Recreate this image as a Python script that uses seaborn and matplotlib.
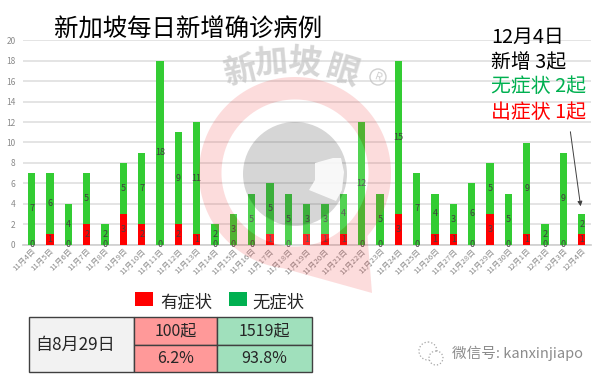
import matplotlib
matplotlib.use("Agg")
import matplotlib.pyplot as plt
import matplotlib.patches as mpatches
from matplotlib.path import Path
import numpy as np
import seaborn as sns

# 数据
days = ["11月4日", "11月5日", "11月6日", "11月7日", "11月8日", "11月9日", "11月10日", "11月11日",
        "11月12日", "11月13日", "11月14日", "11月15日", "11月16日", "11月17日", "11月18日", "11月19日",
        "11月20日", "11月21日", "11月22日", "11月23日", "11月24日", "11月25日", "11月26日", "11月27日",
        "11月28日", "11月29日", "11月30日", "12月1日", "12月2日", "12月3日", "12月4日"]
sym = [0, 1, 0, 2, 0, 3, 2, 0, 2, 1, 0, 0, 0, 1, 0, 1, 1, 1, 0, 0, 3, 0, 1, 1, 0, 3, 0, 1, 0, 0, 1]
asym = [7, 6, 4, 5, 2, 5, 7, 18, 9, 11, 2, 3, 5, 5, 5, 3, 3, 4, 12, 5, 15, 7, 4, 3, 6, 5, 5, 9, 2, 9, 2]
yticks = list(range(0, 21, 2))
table_rows = [["100起", "1519起"], ["6.2%", "93.8%"]]

sns.set_theme(style="white")
plt.rcParams['font.family'] = ['Noto Sans CJK SC', 'DejaVu Sans']

W, H = 601, 381
fig = plt.figure(figsize=(W / 100, H / 100), dpi=100)
fig.patch.set_facecolor("white")
ax = fig.add_axes([22.5 / W, 1 - 244.5 / H, (591 - 22.5) / W, (244.5 - 40.5) / H])

# 堆叠柱
sns.barplot(x=days, y=asym, bottom=sym, color="#33CC33", width=0.4, saturation=1, linewidth=0, ax=ax, zorder=3)
sns.barplot(x=days, y=sym, color="#FF0000", width=0.4, saturation=1, linewidth=0, ax=ax, zorder=3)

ax.set_xlim(-0.5, len(days) - 0.5)
ax.set_ylim(0, 20)
ax.set_yticks(yticks)
ax.grid(axis="y", color="#DDDDDD", lw=1.1, zorder=0)
ax.set_axisbelow(True)
sns.despine(ax=ax, left=True, bottom=False)
ax.spines["bottom"].set_color("#D0D0D0")
ax.tick_params(axis="y", labelsize=6, labelcolor="#8A8A8A", length=0, pad=5)
ax.tick_params(axis="x", labelsize=5.6, labelcolor="#8A8A8A", length=0, pad=2)
plt.setp(ax.get_xticklabels(), rotation=45, ha="right", rotation_mode="anchor")

for i in range(len(days)):
    ax.text(i, sym[i] / 2, str(sym[i]), ha="center", va="center", fontsize=6.5, color="#404040", zorder=5)
    ax.text(i, sym[i] + asym[i] / 2, str(asym[i]), ha="center", va="center", fontsize=6.5, color="#404040", zorder=5)

# 覆盖层,按像素定位
ov = fig.add_axes([0, 0, 1, 1], zorder=10)
ov.set_xlim(0, W)
ov.set_ylim(H, 0)
ov.axis("off")
ov.patch.set_alpha(0)

# 水印:圆环带尖角
cx, cy = 295, 173
t2 = np.radians(np.linspace(41, -263, 200))
outer = np.c_[cx + 96 * np.cos(t2), cy + 96 * np.sin(t2)]
outer = np.vstack([outer, [[372, 293]], outer[:1]])
t3 = np.radians(np.linspace(0, 360, 120))
inner = np.c_[cx + 73.5 * np.cos(t3), cy + 73.5 * np.sin(t3)]
ring = Path(np.vstack([outer, inner]),
            [Path.MOVETO] + [Path.LINETO] * (len(outer) - 1) + [Path.MOVETO] + [Path.LINETO] * (len(inner) - 1))
ov.add_patch(mpatches.PathPatch(ring, fc="#EE3333", ec="none", alpha=0.17))
ov.add_patch(mpatches.Wedge((cx, cy), 73.5, 0, 360, width=21.5, fc="white", ec="none", alpha=0.15))
ov.add_patch(mpatches.Circle((cx, cy + 1), 52, fc="#555555", ec="none", alpha=0.24))
ov.add_patch(mpatches.Polygon([(315, 163), (333, 158), (341, 158), (344, 172), (342, 190), (336, 201), (309, 190), (315, 180)],
                              closed=True, fc="white", ec="none", alpha=0.85))
for ch, x, y, rot in [("新", 240, 72, 14), ("加", 271, 63, 5), ("坡", 304, 63, -6), ("眼", 343, 72, -17)]:
    ov.text(x, y, ch, fontsize=24, fontweight="bold", color="#C4C4C4", alpha=0.7,
            rotation=rot, ha="center", va="center")
ov.add_patch(mpatches.Circle((378, 77), 8, fc="none", ec="#C4C4C4", lw=1, alpha=0.8))
ov.text(378, 77, "R", fontsize=8, color="#C4C4C4", alpha=0.8, rotation=-20, ha="center", va="center")

# 标题和注释
ov.text(54, 30, "新加坡每日新增确诊病例", fontsize=17.6, color="black", ha="left", va="center")
notes = [("12月4日", 37, "black"), ("新增 3起", 62, "black"), ("无症状 2起", 87, "#00B050"), ("出症状 1起", 113, "#FF0000")]
for txt, y, c in notes:
    ov.text(491, y, txt, fontsize=14.3, color=c, ha="left", va="center")
ov.annotate("", xy=(581, 209), xytext=(570, 129),
            arrowprops=dict(arrowstyle="-|>", color="#404040", lw=0.7, mutation_scale=7))

# 图例
ov.add_patch(mpatches.Rectangle((135, 292), 18, 14, fc="#FF0000", ec="none"))
ov.text(160, 302, "有症状", fontsize=12.5, color="#262626", ha="left", va="center")
ov.add_patch(mpatches.Rectangle((229, 292), 18, 14, fc="#00B050", ec="none"))
ov.text(252, 302, "无症状", fontsize=12.5, color="#262626", ha="left", va="center")

# 表格
x0, x1, x2, x3 = 29, 134, 217, 312
y0, y1, y2 = 317, 345, 372
ov.add_patch(mpatches.Rectangle((x0, y0), x1 - x0, y2 - y0, fc="#F2F2F2", ec="#404040", lw=1))
for r, (ya, yb) in enumerate([(y0, y1), (y1, y2)]):
    ov.add_patch(mpatches.Rectangle((x1, ya), x2 - x1, yb - ya, fc="#FF9999", ec="#404040", lw=1))
    ov.add_patch(mpatches.Rectangle((x2, ya), x3 - x2, yb - ya, fc="#A0E0BC", ec="#404040", lw=1))
    ov.text((x1 + x2) / 2, (ya + yb) / 2, table_rows[r][0], fontsize=11.5, color="#262626", ha="center", va="center")
    ov.text((x2 + x3) / 2, (ya + yb) / 2, table_rows[r][1], fontsize=11.5, color="#262626", ha="center", va="center")
ov.text(75, (y0 + y2) / 2, "自8月29日", fontsize=12.3, color="#262626", ha="center", va="center")

# 微信水印
ov.text(452, 353, "微信号: kanxinjiapo", fontsize=10.5, color="#8C8C8C", ha="left", va="center")
ov.add_patch(mpatches.Circle((428, 351), 9, fc="none", ec="#A5A5A5", lw=0.9, ls=":"))
ov.add_patch(mpatches.Circle((436, 358), 7, fc="white", ec="#A5A5A5", lw=0.9, ls=":"))

fig.savefig("out.png", dpi=100)
